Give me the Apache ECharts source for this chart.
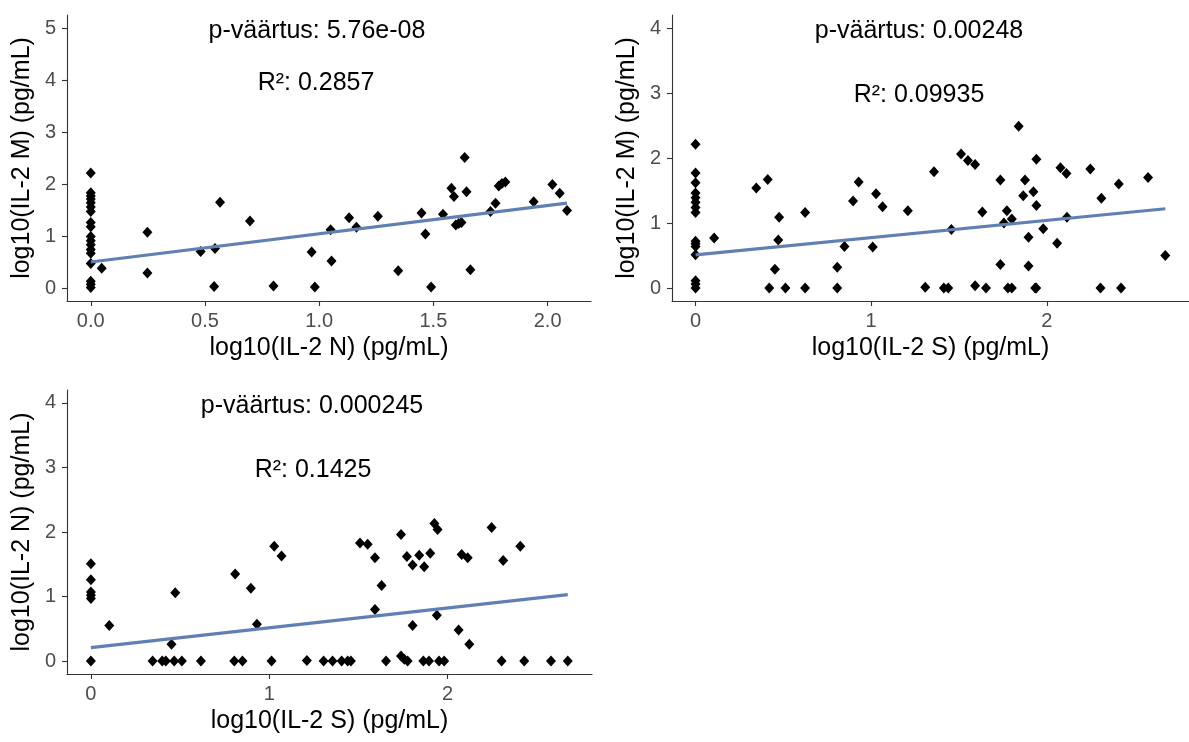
<!DOCTYPE html>
<html>
<head>
<meta charset="utf-8">
<title>IL-2 korrelatsioonid</title>
<script src="https://cdn.jsdelivr.net/npm/echarts@6/dist/echarts.min.js"></script>
<style>
  html, body { margin: 0; padding: 0; background: #ffffff; }
  #chart { width: 1189px; height: 742px; }
</style>
</head>
<body>
<div id="chart"></div>
<script>
// ---- Panel 1: log10(IL-2 N) vs log10(IL-2 M) ----
const nX = [0, 0, 0, 0, 0, 0, 0, 0, 0, 0, 0, 0, 0, 0, 0, 0, 0, 0,
  0.048, 0.248, 0.248, 0.481, 0.544, 0.566, 0.54, 0.697, 0.80, 0.967, 0.981, 1.05, 1.054,
  1.131, 1.163, 1.257, 1.346, 1.448, 1.465, 1.49, 1.542, 1.579, 1.59, 1.598, 1.611, 1.623,
  1.637, 1.645, 1.662, 1.75, 1.772, 1.786, 1.80, 1.815, 1.939, 2.021, 2.053, 2.085];
const mY_vsN = [2.21, 1.83, 1.77, 1.71, 1.64, 1.56, 1.47, 1.26, 1.18, 0.99, 0.91, 0.83, 0.74, 0.67, 0.47, 0.13, 0.07, 0.01,
  0.38, 1.07, 0.29, 0.70, 0.76, 1.65, 0.03, 1.29, 0.04, 0.69, 0.02, 1.12, 0.52,
  1.35, 1.17, 1.38, 0.33, 1.44, 1.04, 0.02, 1.42, 1.92, 1.76, 1.21, 1.24, 1.26,
  2.51, 1.85, 0.35, 1.47, 1.63, 1.96, 2.01, 2.04, 1.66, 1.99, 1.82, 1.49];

// ---- Panel 2: log10(IL-2 S) vs log10(IL-2 M) ----
const sX_forM = [0, 0, 0, 0, 0, 0, 0, 0, 0, 0, 0, 0, 0, 0, 0,
  0.106, 0.346, 0.411, 0.452, 0.42, 0.476, 0.471, 0.512, 0.624, 0.624, 0.807, 0.807, 0.848,
  0.897, 0.929, 1.009, 1.028, 1.065, 1.209, 1.308, 1.358, 1.414, 1.439, 1.457, 1.512, 1.551,
  1.592, 1.592, 1.633, 1.654, 1.736, 1.736, 1.756, 1.773, 1.779, 1.801, 1.801, 1.84, 1.866,
  1.876, 1.896, 1.896, 1.924, 1.941, 1.941, 1.934, 1.94, 1.98, 2.059, 2.078, 2.112, 2.115,
  2.248, 2.306, 2.311, 2.41, 2.423, 2.577, 2.675];
const mY_vsS = [2.21, 1.77, 1.62, 1.46, 1.39, 1.32, 1.24, 1.16, 0.72, 0.68, 0.64, 0.51, 0.11, 0.06, 0.0,
  0.77, 1.54, 1.67, 0.29, 0, 1.09, 0.74, 0, 1.16, 0, 0.32, 0, 0.64,
  1.34, 1.63, 0.63, 1.45, 1.25, 1.19, 0.01, 1.79, 0, 0, 0.90, 2.06, 1.96,
  1.90, 0.035, 1.17, 0, 1.66, 0.36, 1.0, 1.19, 0, 1.06, 0, 2.49, 1.42,
  1.66, 0.78, 0.34, 1.48, 1.27, 1.98, 0, 0, 0.91, 0.69, 1.85, 1.76, 1.09,
  1.83, 0, 1.38, 1.60, 0, 1.70, 0.50];

// ---- Panel 3: log10(IL-2 S) vs log10(IL-2 N) ----
const sX_forN = [0, 0, 0, 0, 0, 0,
  0.103, 0.346, 0.40, 0.42, 0.452, 0.467, 0.473, 0.51, 0.617, 0.804, 0.809, 0.85, 0.897,
  0.931, 1.013, 1.028, 1.069, 1.211, 1.305, 1.355, 1.406, 1.44, 1.458, 1.509, 1.552,
  1.593, 1.593, 1.63, 1.655, 1.739, 1.739, 1.757, 1.776, 1.772, 1.804, 1.804, 1.841,
  1.869, 1.864, 1.903, 1.896, 1.926, 1.944, 1.94, 1.952, 1.981, 2.062, 2.079, 2.113,
  2.122, 2.247, 2.303, 2.312, 2.408, 2.43, 2.58, 2.674];
const nY_vsS = [1.51, 1.26, 1.07, 1.02, 0.97, 0,
  0.55, 0, 0, 0, 0.26, 0, 1.06, 0, 0, 0, 1.35, 0, 1.13,
  0.57, 0, 1.78, 1.63, 0.01, 0, 0, 0, 0, 0, 1.83, 1.81,
  1.60, 0.80, 1.17, 0, 1.96, 0.08, 0.03, 0, 1.62, 1.49, 0.55, 1.64,
  1.46, 0, 1.67, 0, 2.13, 2.04, 0.71, 0, 0, 0.48, 1.65, 1.60,
  0.26, 2.07, 0, 1.56, 1.78, 0, 0, 0];

// Linear fits [intercept, slope]
const fitMvsN = [0.50, 0.543];
const fitMvsS = [0.51, 0.265];
const fitNvsS = [0.21, 0.307];

// Fit statistics shown in each panel
const statTexts = [
  ['p-väärtus: 5.76e-08', 'R²: 0.2857'],
  ['p-väärtus: 0.00248', 'R²: 0.09935'],
  ['p-väärtus: 0.000245', 'R²: 0.1425']
];

// Axis titles
const xTitles = ['log10(IL-2 N) (pg/mL)', 'log10(IL-2 S) (pg/mL)', 'log10(IL-2 S) (pg/mL)'];
const yTitles = ['log10(IL-2 M) (pg/mL)', 'log10(IL-2 M) (pg/mL)', 'log10(IL-2 N) (pg/mL)'];

// Tick values
const xTicks = [[0, 0.5, 1, 1.5, 2], [0, 1, 2], [0, 1, 2]];
const yTicks = [[0, 1, 2, 3, 4, 5], [0, 1, 2, 3, 4], [0, 1, 2, 3, 4]];

// Axis limits (data range plus 5% padding)
const xLimits = [[-0.104, 2.19], [-0.134, 2.81], [-0.134, 2.81]];
const yLimits = [[-0.25, 5.25], [-0.2, 4.2], [-0.2, 4.2]];

const FONT = '"Liberation Sans", Arial, Helvetica, sans-serif';

const panels = [
  { x: nX, y: mY_vsN, fit: fitMvsN, grid: { left: 67, top: 15, width: 524, height: 286 },
    xFmt: v => v.toFixed(1), text: [[317, 31], [316, 83]] },
  { x: sX_forM, y: mY_vsS, fit: fitMvsS, grid: { left: 672, top: 15, width: 525, height: 286 },
    xFmt: v => String(v), text: [[919, 31], [919, 95]] },
  { x: sX_forN, y: nY_vsS, fit: fitNvsS, grid: { left: 67, top: 390, width: 525, height: 284 },
    xFmt: v => String(v), text: [[312, 406], [313, 470]] }
];

function axisCommon() {
  return {
    axisLine: { show: true, onZero: false, lineStyle: { color: '#333333', width: 1.1 } },
    axisTick: { show: true, length: 5, lineStyle: { color: '#333333', width: 1.1 } },
    splitLine: { show: false },
    nameTextStyle: { color: '#000000', fontSize: 25, fontFamily: FONT }
  };
}

const grids = [], xAxes = [], yAxes = [], series = [], graphics = [];

panels.forEach((p, i) => {
  grids.push(Object.assign({ containLabel: false }, p.grid));

  const xa = axisCommon();
  Object.assign(xa, {
    type: 'value', gridIndex: i, min: xLimits[i][0], max: xLimits[i][1],
    name: xTitles[i], nameLocation: 'middle', nameGap: 35
  });
  xa.axisTick.customValues = xTicks[i];
  xa.axisLabel = { customValues: xTicks[i], formatter: p.xFmt, color: '#4D4D4D',
    fontSize: 20, fontFamily: FONT, margin: 10 };
  xAxes.push(xa);

  const ya = axisCommon();
  Object.assign(ya, {
    type: 'value', gridIndex: i, min: yLimits[i][0], max: yLimits[i][1],
    name: yTitles[i], nameLocation: 'middle', nameGap: 32, nameRotate: 90
  });
  ya.axisTick.customValues = yTicks[i];
  ya.axisLabel = { customValues: yTicks[i], formatter: v => String(v), color: '#4D4D4D',
    fontSize: 20, fontFamily: FONT, margin: 11 };
  yAxes.push(ya);

  series.push({
    type: 'scatter', xAxisIndex: i, yAxisIndex: i,
    data: p.x.map((v, k) => [v, p.y[k]]),
    symbol: 'diamond', symbolSize: [10, 11],
    itemStyle: { color: '#000000', opacity: 1 }, z: 2, silent: true
  });

  const x0 = Math.min(...p.x), x1 = Math.max(...p.x);
  series.push({
    type: 'line', xAxisIndex: i, yAxisIndex: i,
    data: [[x0, p.fit[0] + p.fit[1] * x0], [x1, p.fit[0] + p.fit[1] * x1]],
    showSymbol: false, symbol: 'none',
    lineStyle: { color: '#6080B4', width: 3.2 }, z: 3, silent: true
  });

  statTexts[i].forEach((t, k) => {
    graphics.push({
      type: 'text', x: p.text[k][0], y: p.text[k][1], silent: true,
      style: { text: t, fill: '#000000', font: '25px ' + FONT, align: 'center', verticalAlign: 'middle' }
    });
  });
});

const chart = echarts.init(document.getElementById('chart'), null, { renderer: 'canvas' });
chart.setOption({
  animation: false,
  backgroundColor: '#ffffff',
  grid: grids,
  xAxis: xAxes,
  yAxis: yAxes,
  series: series,
  graphic: graphics
});
</script>
</body>
</html>
